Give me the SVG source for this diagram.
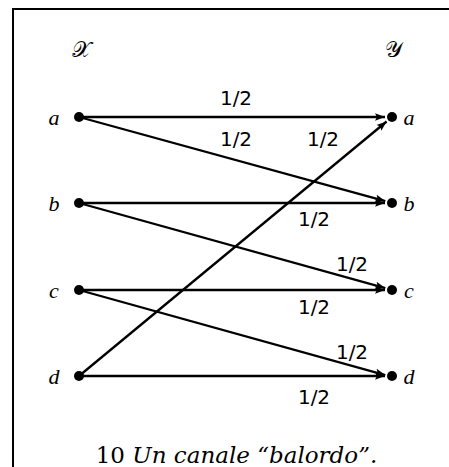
<svg xmlns="http://www.w3.org/2000/svg" width="449" height="467" viewBox="0 0 449 467">
<defs>
<style>
.edge{stroke:#000;stroke-width:2.3;fill:none;marker-end:url(#arr)}
.dot{fill:#000}
.lab{font-family:"DejaVu Sans",sans-serif;font-size:20px;fill:#000;text-anchor:middle}
.nl{font-family:"Liberation Serif",serif;font-style:italic;font-size:22px;fill:#000;text-anchor:middle}
.set{font-family:"DejaVu Sans","Noto Sans",serif;font-size:22px;fill:#000;text-anchor:middle}
.cap{font-family:"DejaVu Serif","Liberation Serif",serif;font-size:23px;fill:#000;text-anchor:middle}
</style>
<marker id="arr" markerUnits="userSpaceOnUse" markerWidth="12" markerHeight="10" refX="10" refY="5" orient="auto">
<path d="M0,1.2 L10,5 L0,8.8 L2,5 Z" fill="#000"/>
</marker>
</defs>
<rect width="449" height="467" fill="#fff"/>
<g id="frame" stroke="#000" stroke-width="2" fill="none">
<line x1="13" y1="9" x2="449" y2="9"/>
<line x1="13" y1="8" x2="13" y2="467"/>
</g>
<g id="connectors">
<line class="edge" x1="79" y1="117" x2="385" y2="117"/>
<line class="edge" x1="79" y1="117" x2="385.3" y2="201.1"/>
<line class="edge" x1="79" y1="203" x2="385" y2="203"/>
<line class="edge" x1="79" y1="203" x2="385.3" y2="288.1"/>
<line class="edge" x1="79" y1="290" x2="385" y2="290"/>
<line class="edge" x1="79" y1="290" x2="385.3" y2="375.1"/>
<line class="edge" x1="79" y1="376" x2="385" y2="376"/>
<line class="edge" x1="79" y1="376" x2="386.6" y2="121.5"/>
<text class="lab" x="236" y="105">1/2</text>
<text class="lab" x="236" y="146">1/2</text>
<text class="lab" x="323" y="146">1/2</text>
<text class="lab" x="314" y="226">1/2</text>
<text class="lab" x="352" y="271">1/2</text>
<text class="lab" x="314" y="314">1/2</text>
<text class="lab" x="352" y="359">1/2</text>
<text class="lab" x="314" y="404">1/2</text>
</g>
<g id="setX"><text class="set" x="81" y="57">𝒳</text></g>
<g id="setY"><text class="set" x="393" y="57">𝒴</text></g>
<g id="xa"><circle class="dot" cx="79" cy="117" r="5"/><text class="nl" x="54" y="125">a</text></g>
<g id="xb"><circle class="dot" cx="79" cy="203" r="5"/><text class="nl" x="54" y="211">b</text></g>
<g id="xc"><circle class="dot" cx="79" cy="290" r="5"/><text class="nl" x="54" y="298">c</text></g>
<g id="xd"><circle class="dot" cx="79" cy="376" r="5"/><text class="nl" x="54" y="384">d</text></g>
<g id="ya"><circle class="dot" cx="392" cy="117" r="5"/><text class="nl" x="409" y="125">a</text></g>
<g id="yb"><circle class="dot" cx="392" cy="203" r="5"/><text class="nl" x="409" y="211">b</text></g>
<g id="yc"><circle class="dot" cx="392" cy="290" r="5"/><text class="nl" x="409" y="298">c</text></g>
<g id="yd"><circle class="dot" cx="392" cy="376" r="5"/><text class="nl" x="409" y="384">d</text></g>
<g id="caption"><text class="cap" x="236.5" y="463">10 <tspan font-style="italic">Un canale “balordo”.</tspan></text></g>
</svg>
